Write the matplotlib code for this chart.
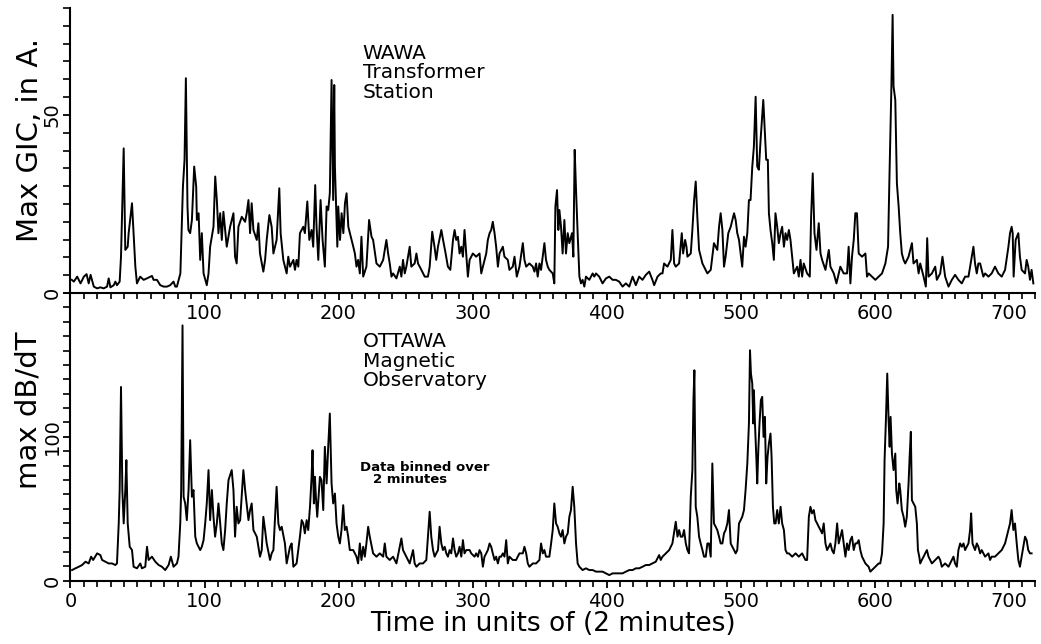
import matplotlib
matplotlib.use("Agg")
import matplotlib.pyplot as plt
from matplotlib.ticker import MultipleLocator

# Tick positions and labels on the time axis.
time_ticks = [0, 100, 200, 300, 400, 500, 600, 700]
top_time_labels = ["", "100", "200", "300", "400", "500", "600", "700"]
bottom_time_labels = ["0", "100", "200", "300", "400", "500", "600", "700"]

# WAWA transformer station, max GIC in amperes.
gic_time = [
    1.0, 2.5, 5.0, 7.5, 10.0, 12.0, 13.6, 15.0, 17.4, 19.9,
    22.3, 24.8, 27.3, 28.5, 29.8, 32.3, 33.5, 34.7, 36.7, 37.7,
    39.7, 40.9, 42.7, 43.4, 45.9, 47.1, 48.4, 49.6, 52.0, 54.6,
    57.0, 60.8, 62.0, 64.5, 67.0, 69.5, 72.0, 74.4, 76.9, 78.2,
    79.4, 82.0, 83.9, 85.1, 86.1, 87.3, 88.0, 89.3, 90.6, 92.3,
    93.8, 94.3, 95.6, 96.8, 98.0, 99.3, 101.7, 103.0, 104.2, 106.7,
    108.0, 109.2, 110.4, 111.7, 112.9, 114.1, 116.6, 119.1, 121.6, 122.8,
    124.0, 125.3, 127.8, 130.3, 131.5, 132.8, 134.0, 135.2, 136.5, 139.0,
    140.2, 141.4, 143.9, 145.2, 146.4, 148.4, 150.1, 151.4, 153.8, 155.8,
    156.8, 158.8, 161.3, 162.5, 163.8, 166.3, 167.5, 168.7, 170.0, 171.2,
    173.7, 174.9, 176.7, 178.2, 179.9, 181.1, 182.6, 183.6, 184.9, 186.6,
    188.1, 189.8, 191.1, 192.3, 193.5, 194.8, 196.0, 196.8, 197.3, 198.1,
    199.1, 199.8, 201.1, 202.3, 203.6, 204.8, 206.0, 207.3, 208.5, 211.0,
    212.2, 213.4, 214.6, 215.9, 217.1, 218.4, 220.8, 222.8, 224.6, 225.8,
    228.3, 230.8, 233.3, 235.7, 237.0, 238.2, 239.5, 240.7, 243.2, 245.7,
    246.9, 248.1, 249.4, 250.6, 253.1, 254.3, 256.8, 258.1, 259.3, 261.8,
    264.3, 266.7, 268.0, 269.9, 271.6, 272.9, 274.2, 276.7, 278.0, 279.9,
    281.6, 283.4, 285.4, 286.6, 287.8, 289.1, 290.3, 291.6, 292.8, 294.0,
    295.3, 296.5, 297.8, 300.2, 302.7, 305.2, 306.5, 307.7, 310.2, 311.4,
    312.7, 313.9, 315.1, 316.4, 317.6, 318.9, 320.1, 322.6, 323.8, 326.3,
    327.5, 330.0, 331.3, 333.0, 335.0, 337.5, 338.7, 340.0, 342.4, 344.9,
    346.2, 347.4, 348.6, 349.9, 351.1, 353.6, 354.8, 356.1, 357.3, 359.8,
    361.0, 361.8, 363.0, 364.0, 364.8, 366.0, 367.2, 368.5, 369.7, 371.0,
    372.2, 374.2, 375.2, 376.2, 377.2, 378.4, 379.7, 380.9, 382.1, 383.4,
    384.6, 387.1, 389.6, 390.8, 392.1, 394.5, 397.0, 399.5, 402.0, 404.5,
    406.9, 409.4, 411.9, 414.4, 416.9, 419.4, 421.8, 424.3, 426.8, 429.3,
    431.8, 434.2, 435.5, 438.0, 440.4, 441.7, 442.9, 445.4, 447.9, 449.1,
    450.4, 451.6, 454.1, 456.1, 457.1, 458.6, 459.6, 460.3, 462.8, 464.0,
    465.3, 466.5, 467.7, 469.0, 471.5, 475.2, 477.7, 480.1, 482.6, 483.9,
    485.1, 486.4, 487.6, 488.8, 490.8, 492.6, 495.1, 496.3, 497.5, 498.8,
    501.2, 502.5, 503.7, 505.0, 506.2, 507.4, 508.7, 509.9, 511.2, 512.4,
    513.6, 514.9, 516.9, 518.1, 519.1, 520.3, 521.1, 522.3, 523.6, 524.8,
    526.0, 527.3, 528.5, 529.8, 531.0, 532.3, 533.5, 534.7, 536.0, 537.2,
    539.7, 542.2, 543.4, 544.7, 545.9, 547.1, 549.6, 551.6, 552.6, 553.8,
    555.1, 556.6, 558.3, 559.6, 560.8, 563.3, 565.8, 567.0, 569.5, 571.5,
    574.4, 576.9, 579.4, 580.6, 581.9, 583.1, 584.4, 585.6, 586.8, 588.1,
    590.6, 593.1, 594.3, 595.5, 598.0, 600.5, 603.0, 605.5, 608.0, 610.0,
    611.0, 612.5, 613.4, 614.1, 615.4, 616.6, 617.9, 619.1, 620.3, 621.6,
    622.8, 625.3, 627.8, 629.0, 631.5, 632.8, 634.0, 636.5, 638.2, 639.2,
    640.2, 642.7, 645.2, 646.4, 648.9, 650.6, 652.6, 655.1, 657.6, 660.0,
    662.5, 665.0, 667.5, 670.0, 672.5, 673.7, 674.9, 676.2, 677.4, 678.7,
    681.1, 682.4, 684.9, 687.3, 689.8, 692.3, 694.8, 697.3, 699.8, 701.0,
    702.2, 703.0, 703.7, 705.2, 707.2, 708.4, 709.7, 712.2, 713.4, 714.6,
    715.9, 717.1, 718.4,
]
gic_amps = [
    3.7, 3.2, 4.6, 2.7, 4.6, 5.3, 2.7, 5.1, 1.8, 1.3,
    1.6, 1.3, 1.8, 4.1, 1.6, 2.2, 3.2, 2.2, 3.2, 10.2,
    40.6, 12.1, 13.0, 16.8, 25.2, 16.8, 7.4, 2.7, 4.6, 3.7,
    4.1, 4.8, 3.7, 3.7, 2.2, 1.8, 1.8, 2.2, 3.2, 1.8,
    1.8, 5.5, 29.9, 37.4, 60.3, 24.3, 17.7, 16.8, 20.5, 35.5,
    29.9, 20.5, 22.4, 9.3, 16.8, 5.5, 2.2, 5.5, 13.0, 18.6,
    32.7, 26.1, 16.8, 22.4, 14.9, 22.8, 13.0, 18.6, 22.4, 10.2,
    8.3, 18.6, 21.4, 20.0, 22.4, 26.1, 16.8, 25.2, 17.7, 14.9,
    19.6, 11.1, 6.0, 9.3, 14.9, 21.9, 18.6, 11.1, 14.9, 29.4,
    16.8, 9.3, 5.5, 10.2, 7.4, 9.3, 6.5, 9.3, 7.4, 16.8,
    18.6, 16.8, 25.7, 14.9, 17.7, 13.0, 30.3, 18.6, 9.3, 26.1,
    14.9, 7.4, 24.3, 23.3, 28.0, 59.8, 26.1, 58.4, 35.5, 25.2,
    13.0, 24.3, 14.9, 22.4, 16.8, 25.2, 28.0, 18.6, 16.8, 13.0,
    11.1, 7.4, 9.3, 5.5, 15.8, 4.6, 7.4, 20.5, 15.8, 14.9,
    8.3, 7.4, 9.3, 14.9, 11.1, 8.3, 4.6, 5.5, 4.1, 7.4,
    4.6, 9.3, 5.5, 7.4, 13.0, 7.4, 8.3, 11.1, 8.3, 6.5,
    4.6, 4.6, 7.4, 17.2, 13.0, 9.3, 13.0, 17.7, 14.9, 11.1,
    7.4, 6.5, 14.9, 17.7, 14.9, 15.8, 11.1, 13.0, 10.2, 17.7,
    11.1, 4.6, 9.3, 11.1, 10.2, 11.1, 5.5, 7.4, 11.1, 14.9,
    16.8, 17.7, 20.0, 16.8, 13.0, 7.4, 11.1, 13.0, 10.2, 9.3,
    6.5, 7.4, 10.2, 4.6, 7.4, 14.0, 9.3, 7.4, 8.3, 7.4,
    6.0, 8.3, 4.6, 8.3, 6.5, 14.0, 9.3, 7.4, 6.5, 5.5,
    2.7, 24.3, 28.9, 17.7, 23.3, 18.6, 11.1, 20.5, 11.1, 16.8,
    14.0, 16.8, 10.2, 40.2, 28.9, 16.8, 4.6, 2.7, 3.7, 1.8,
    4.6, 3.7, 5.5, 4.6, 5.5, 4.6, 2.7, 4.1, 4.6, 3.7,
    3.7, 3.2, 1.8, 2.7, 1.8, 4.6, 2.2, 4.6, 3.7, 5.1,
    6.0, 3.7, 2.2, 4.6, 5.5, 5.5, 8.3, 7.4, 9.3, 17.7,
    8.3, 7.4, 8.3, 16.8, 11.1, 14.9, 13.0, 10.2, 11.1, 17.7,
    26.1, 31.3, 21.4, 12.1, 8.3, 5.5, 6.5, 14.0, 12.1, 18.6,
    22.4, 17.7, 7.4, 10.2, 16.8, 18.6, 22.4, 20.5, 16.8, 14.9,
    7.4, 15.8, 13.0, 16.8, 26.1, 26.1, 35.5, 41.1, 55.1, 35.5,
    34.6, 43.0, 54.2, 44.9, 37.4, 37.4, 22.4, 17.7, 14.0, 9.3,
    22.4, 18.6, 14.0, 16.8, 18.6, 13.0, 16.8, 14.9, 17.7, 14.9,
    5.5, 7.4, 4.6, 9.3, 4.6, 8.3, 5.5, 4.6, 21.4, 33.6,
    16.8, 12.1, 19.6, 11.1, 9.3, 6.5, 12.1, 7.4, 5.5, 2.7,
    7.4, 5.5, 5.5, 13.0, 2.7, 10.2, 14.9, 22.4, 22.4, 11.1,
    10.2, 11.1, 4.6, 5.5, 4.6, 3.7, 4.6, 5.5, 8.3, 13.0,
    31.7, 58.0, 78.1, 58.0, 54.2, 30.8, 24.3, 16.8, 11.1, 9.3,
    8.3, 10.2, 14.0, 8.3, 9.3, 5.5, 8.3, 4.6, 1.8, 15.4,
    4.6, 5.5, 7.4, 3.7, 5.5, 10.2, 4.6, 1.8, 3.7, 5.1,
    3.7, 2.7, 4.6, 4.6, 10.2, 13.0, 8.3, 5.5, 8.3, 8.3,
    4.6, 5.5, 4.6, 5.5, 7.4, 5.5, 4.6, 6.5, 13.0, 16.8,
    18.6, 16.8, 4.6, 14.9, 16.8, 10.2, 6.5, 5.5, 9.3, 7.4,
    3.7, 6.5, 2.7,
]

# OTTAWA magnetic observatory, max dB/dT.
dbdt_time = [
    1.2, 3.7, 6.2, 8.7, 11.2, 13.6, 15.4, 16.9, 19.9, 22.3,
    23.6, 26.1, 28.5, 31.0, 33.5, 34.7, 36.0, 36.7, 37.7, 38.7,
    39.7, 40.9, 41.7, 42.7, 44.2, 45.9, 47.1, 49.6, 52.1, 53.3,
    55.8, 57.1, 58.3, 60.8, 63.3, 65.8, 68.2, 70.7, 73.2, 74.9,
    76.9, 79.4, 80.6, 81.9, 82.6, 83.6, 84.4, 85.6, 86.8, 88.1,
    89.3, 90.6, 91.8, 93.1, 94.3, 96.8, 98.0, 99.3, 100.5, 101.7,
    103.0, 104.2, 105.5, 106.7, 107.9, 109.2, 110.4, 111.7, 112.9, 114.1,
    115.4, 116.6, 117.9, 120.3, 121.6, 122.8, 124.0, 125.3, 126.6, 129.0,
    130.3, 132.8, 134.0, 135.2, 136.5, 139.0, 141.4, 142.7, 143.9, 145.2,
    146.4, 148.9, 150.1, 151.4, 153.8, 155.1, 156.3, 157.6, 160.0, 161.3,
    163.8, 165.0, 166.3, 168.7, 171.2, 172.5, 173.7, 174.9, 176.2, 177.4,
    178.7, 179.9, 180.6, 181.6, 182.4, 183.1, 184.1, 185.4, 186.1, 187.3,
    188.6, 189.8, 191.1, 192.3, 193.5, 194.8, 196.0, 197.3, 198.5, 199.8,
    201.0, 202.2, 203.5, 204.7, 206.0, 207.2, 208.4, 210.9, 212.2, 213.4,
    214.6, 215.9, 217.1, 218.4, 219.6, 220.8, 222.1, 223.3, 225.8, 228.3,
    230.8, 233.3, 234.5, 235.7, 238.2, 240.7, 243.2, 245.7, 246.9, 248.1,
    250.6, 253.1, 255.6, 256.8, 258.1, 260.5, 263.0, 265.5, 268.0, 269.2,
    270.5, 271.7, 272.9, 274.2, 275.4, 276.7, 277.9, 279.2, 280.4, 281.6,
    282.9, 284.1, 285.4, 286.6, 287.8, 289.1, 290.3, 291.6, 292.8, 294.0,
    295.3, 297.8, 299.0, 301.5, 302.7, 304.0, 305.2, 306.5, 307.7, 308.9,
    310.2, 311.4, 312.7, 313.9, 315.1, 316.4, 317.6, 318.9, 320.1, 321.3,
    322.6, 323.8, 325.1, 326.3, 327.5, 330.0, 332.5, 333.7, 335.0, 337.5,
    338.7, 340.0, 341.2, 342.4, 344.9, 347.4, 349.9, 351.1, 352.4, 353.6,
    354.8, 357.3, 358.6, 359.8, 361.0, 362.3, 363.5, 364.8, 366.0, 367.2,
    368.5, 369.7, 371.0, 372.2, 373.4, 374.7, 375.9, 377.2, 378.4, 379.7,
    382.1, 384.6, 387.1, 389.6, 392.1, 394.5, 397.0, 399.5, 402.0, 404.5,
    406.9, 409.4, 411.9, 414.4, 416.9, 419.4, 421.8, 424.3, 426.8, 429.3,
    431.8, 434.2, 436.7, 439.2, 440.4, 441.7, 444.2, 446.7, 449.1, 451.6,
    452.9, 454.1, 455.3, 456.6, 457.8, 459.1, 460.3, 461.5, 462.8, 464.0,
    464.8, 465.5, 466.5, 467.7, 469.0, 470.2, 471.5, 472.7, 474.0, 475.2,
    476.4, 477.7, 478.4, 478.9, 480.1, 481.4, 482.6, 483.9, 485.1, 486.4,
    487.6, 488.8, 490.1, 491.3, 492.6, 493.8, 495.1, 496.3, 497.5, 498.8,
    501.2, 502.5, 503.7, 505.0, 506.2, 507.0, 507.7, 508.7, 509.4, 509.9,
    510.7, 511.7, 512.4, 513.2, 514.1, 515.1, 516.1, 517.1, 518.1, 519.1,
    520.1, 521.1, 522.3, 523.1, 524.1, 525.1, 526.1, 527.3, 528.5, 529.8,
    531.0, 532.3, 533.5, 534.7, 536.0, 538.5, 541.0, 543.4, 545.9, 547.1,
    548.4, 549.6, 550.9, 552.1, 553.3, 554.6, 555.8, 557.1, 558.3, 559.6,
    560.8, 562.0, 563.3, 564.5, 565.8, 567.0, 568.2, 569.5, 570.7, 572.0,
    573.2, 575.7, 576.9, 578.2, 579.4, 580.6, 581.9, 583.1, 584.4, 585.6,
    586.8, 588.1, 589.3, 590.6, 593.1, 595.5, 596.8, 598.0, 600.5, 603.0,
    604.2, 605.5, 606.7, 607.4, 608.4, 609.4, 610.4, 611.2, 611.9, 612.9,
    614.1, 615.4, 616.1, 617.1, 618.4, 619.1, 620.3, 621.6, 622.8, 624.0,
    625.3, 626.1, 627.0, 627.8, 629.0, 630.3, 631.5, 632.3, 633.3, 634.0,
    635.2, 636.5, 637.7, 639.0, 640.2, 642.7, 645.2, 647.6, 648.9, 650.1,
    652.6, 655.1, 657.6, 658.8, 660.0, 661.3, 662.5, 663.8, 665.0, 666.3,
    667.5, 668.7, 670.0, 671.2, 672.0, 673.0, 674.9, 676.2, 677.4, 678.7,
    679.9, 682.4, 684.9, 686.1, 687.3, 689.8, 692.3, 694.8, 697.3, 699.8,
    701.0, 702.2, 703.5, 704.7, 706.0, 707.2, 708.4, 709.7, 710.9, 712.2,
    713.4, 714.6, 715.9, 717.1,
]
dbdt_value = [
    7.4, 8.6, 9.7, 10.9, 13.2, 12.0, 16.7, 14.4, 19.0, 17.8,
    14.4, 13.2, 12.0, 12.0, 10.9, 12.0, 39.8, 63.0, 134.7, 63.0,
    39.8, 63.0, 83.8, 39.8, 23.6, 21.3, 9.7, 8.6, 12.0, 8.6,
    9.7, 23.6, 14.4, 16.7, 13.2, 10.9, 9.7, 7.4, 10.9, 16.7,
    9.7, 12.0, 16.7, 39.8, 63.0, 177.5, 58.3, 53.7, 42.1, 63.0,
    97.7, 58.3, 63.0, 30.6, 25.9, 21.3, 23.6, 28.2, 39.8, 53.7,
    76.9, 42.1, 63.0, 44.4, 30.6, 39.8, 53.7, 39.8, 25.9, 21.3,
    35.2, 53.7, 69.9, 76.9, 63.0, 30.6, 51.4, 39.8, 42.1, 76.9,
    63.0, 42.1, 49.1, 53.7, 35.2, 30.6, 16.7, 21.3, 44.4, 35.2,
    25.9, 14.4, 19.0, 21.3, 65.3, 39.8, 35.2, 37.5, 25.9, 12.0,
    23.6, 25.9, 9.7, 12.0, 30.6, 42.1, 39.8, 32.9, 42.1, 35.2,
    51.4, 72.2, 90.7, 53.7, 72.2, 58.3, 44.4, 63.0, 72.2, 69.9,
    49.1, 93.1, 67.6, 93.1, 116.2, 67.6, 53.7, 60.6, 39.8, 30.6,
    25.9, 35.2, 52.5, 35.2, 37.5, 30.6, 21.3, 21.3, 19.0, 16.7,
    12.0, 25.9, 14.4, 23.6, 16.7, 25.9, 37.5, 30.6, 19.0, 16.7,
    19.0, 16.7, 25.9, 16.7, 14.4, 16.7, 12.0, 23.6, 29.4, 21.3,
    16.7, 12.0, 21.3, 12.0, 9.7, 12.0, 12.0, 14.4, 47.9, 30.6,
    21.3, 16.7, 19.0, 21.3, 37.5, 25.9, 21.3, 23.6, 19.0, 16.7,
    21.3, 19.0, 29.4, 21.3, 16.7, 19.0, 23.6, 16.7, 28.2, 19.0,
    21.3, 21.3, 19.0, 16.7, 19.0, 16.7, 21.3, 19.0, 9.7, 16.7,
    19.0, 21.3, 25.9, 23.6, 19.0, 14.4, 16.7, 12.0, 16.7, 16.7,
    19.0, 16.7, 28.2, 12.0, 16.7, 14.4, 14.4, 16.7, 19.0, 19.0,
    23.6, 19.0, 12.0, 9.7, 12.0, 12.0, 14.4, 25.9, 19.0, 21.3,
    16.7, 16.7, 25.9, 35.2, 53.7, 39.8, 37.5, 32.9, 30.6, 35.2,
    25.9, 30.6, 32.9, 44.4, 49.1, 65.3, 51.4, 25.9, 12.0, 9.7,
    7.4, 8.6, 7.4, 7.4, 6.3, 6.3, 6.3, 5.1, 3.9, 5.1,
    5.1, 5.1, 5.1, 6.3, 7.4, 7.4, 8.6, 8.6, 9.7, 10.9,
    10.9, 12.0, 13.2, 17.8, 14.4, 16.7, 19.0, 21.3, 25.9, 41.0,
    30.6, 35.2, 30.6, 30.6, 35.2, 25.9, 21.3, 19.0, 58.3, 76.9,
    125.5, 146.3, 51.4, 44.4, 30.6, 25.9, 21.3, 16.7, 16.7, 25.9,
    25.9, 16.7, 53.7, 81.5, 39.8, 37.5, 35.2, 30.6, 25.9, 25.9,
    32.9, 35.2, 39.8, 49.1, 25.9, 23.6, 21.3, 19.0, 21.3, 39.8,
    44.4, 49.1, 63.0, 81.5, 109.3, 160.2, 144.0, 137.0, 109.3, 132.4,
    109.3, 86.1, 67.6, 90.7, 109.3, 125.5, 127.8, 100.0, 113.9, 67.6,
    86.1, 95.4, 102.3, 86.1, 51.4, 39.8, 39.8, 49.1, 39.8, 51.4,
    39.8, 35.2, 21.3, 19.0, 19.0, 16.7, 19.0, 16.7, 19.0, 16.7,
    14.4, 14.4, 44.4, 51.4, 46.8, 49.1, 42.1, 39.8, 37.5, 35.2,
    32.9, 39.8, 25.9, 21.3, 23.6, 25.9, 21.3, 19.0, 25.9, 39.8,
    25.9, 35.2, 25.9, 16.7, 25.9, 21.3, 28.2, 30.6, 21.3, 25.9,
    25.9, 28.2, 21.3, 16.7, 12.0, 9.7, 6.3, 7.4, 9.7, 12.0,
    12.0, 19.0, 39.8, 83.8, 111.6, 144.0, 111.6, 93.1, 113.9, 88.4,
    76.9, 88.4, 63.0, 53.7, 67.6, 63.0, 49.1, 44.4, 37.5, 44.4,
    67.6, 86.1, 103.5, 56.0, 53.7, 51.4, 39.8, 21.3, 16.7, 12.0,
    14.4, 16.7, 19.0, 21.3, 16.7, 12.0, 14.4, 16.7, 14.4, 9.7,
    12.0, 9.7, 14.4, 16.7, 12.0, 9.7, 21.3, 25.9, 23.6, 25.9,
    21.3, 23.6, 25.9, 35.2, 46.8, 25.9, 21.3, 25.9, 23.6, 19.0,
    21.3, 16.7, 19.0, 14.4, 16.7, 16.7, 19.0, 21.3, 25.9, 35.2,
    39.8, 49.1, 35.2, 39.8, 25.9, 14.4, 9.7, 16.7, 23.6, 30.6,
    28.2, 21.3, 19.0, 19.0,
]

# Figure sized to the 1041x644 reference.
fig = plt.figure(figsize=(10.41, 6.44), dpi=100)
axTop = fig.add_axes([0.0677, 0.545, 0.927, 0.4425])
axBottom = fig.add_axes([0.0677, 0.0983, 0.927, 0.4467])

# Draw the two traces.
axTop.plot(gic_time, gic_amps, color="black", linewidth=1.4)
axBottom.plot(dbdt_time, dbdt_value, color="black", linewidth=1.4)

axTop.set_xlim(0, 720)
axTop.set_ylim(0, 80)
axBottom.set_xlim(0, 720)
axBottom.set_ylim(0, 200)

# Shared styling for both panels.
for axObject in (axTop, axBottom):
    axObject.spines["top"].set_visible(False)
    axObject.spines["right"].set_visible(False)
    axObject.spines["left"].set_linewidth(1.5)
    axObject.spines["bottom"].set_linewidth(1.5)
    axObject.set_xticks(time_ticks)
    axObject.xaxis.set_minor_locator(MultipleLocator(10))
    axObject.tick_params(axis="x", which="major", direction="out", length=5,
                         width=1.3, labelsize=14, pad=3)
    axObject.tick_params(axis="x", which="minor", direction="out", length=4,
                         width=1.2)
    axObject.tick_params(axis="y", which="major", direction="out", length=5,
                         width=1.3, labelsize=14, pad=1.5)
    axObject.tick_params(axis="y", which="minor", direction="out", length=5,
                         width=1.2)
    axObject.set_facecolor("none")

axTop.set_xticklabels(top_time_labels)
axBottom.set_xticklabels(bottom_time_labels)

axTop.set_yticks([0, 50])
axTop.set_yticklabels(["0", "50"], rotation=90, va="center")
axTop.yaxis.set_minor_locator(MultipleLocator(5))
axBottom.set_yticks([0, 100])
axBottom.set_yticklabels(["0", "100"], rotation=90, va="center")
axBottom.yaxis.set_minor_locator(MultipleLocator(10))

# Axis labels.
axTop.set_ylabel("Max GIC, in A.", fontsize=21)
axTop.yaxis.label.set_va("center")
axTop.yaxis.set_label_coords(-0.042, 0.537)
axBottom.set_ylabel("max dB/dT", fontsize=21)
axBottom.yaxis.label.set_va("center")
axBottom.yaxis.set_label_coords(-0.044, 0.593)
axBottom.set_xlabel("Time in units of (2 minutes)", fontsize=19, labelpad=0)

# Station annotations.
axTop.text(218, 70, "WAWA\nTransformer\nStation", fontsize=14.5,
           ha="left", va="top", linespacing=1.05)
axBottom.text(218, 173, "OTTAWA\nMagnetic\nObservatory", fontsize=14.5,
              ha="left", va="top", linespacing=1.05)
axBottom.text(216, 83, "Data binned over", fontsize=9.5, fontweight="bold",
              ha="left", va="top")
axBottom.text(225.5, 75, "2 minutes", fontsize=9.5, fontweight="bold",
              ha="left", va="top")

fig.savefig("out.png", dpi=100, facecolor="white")
